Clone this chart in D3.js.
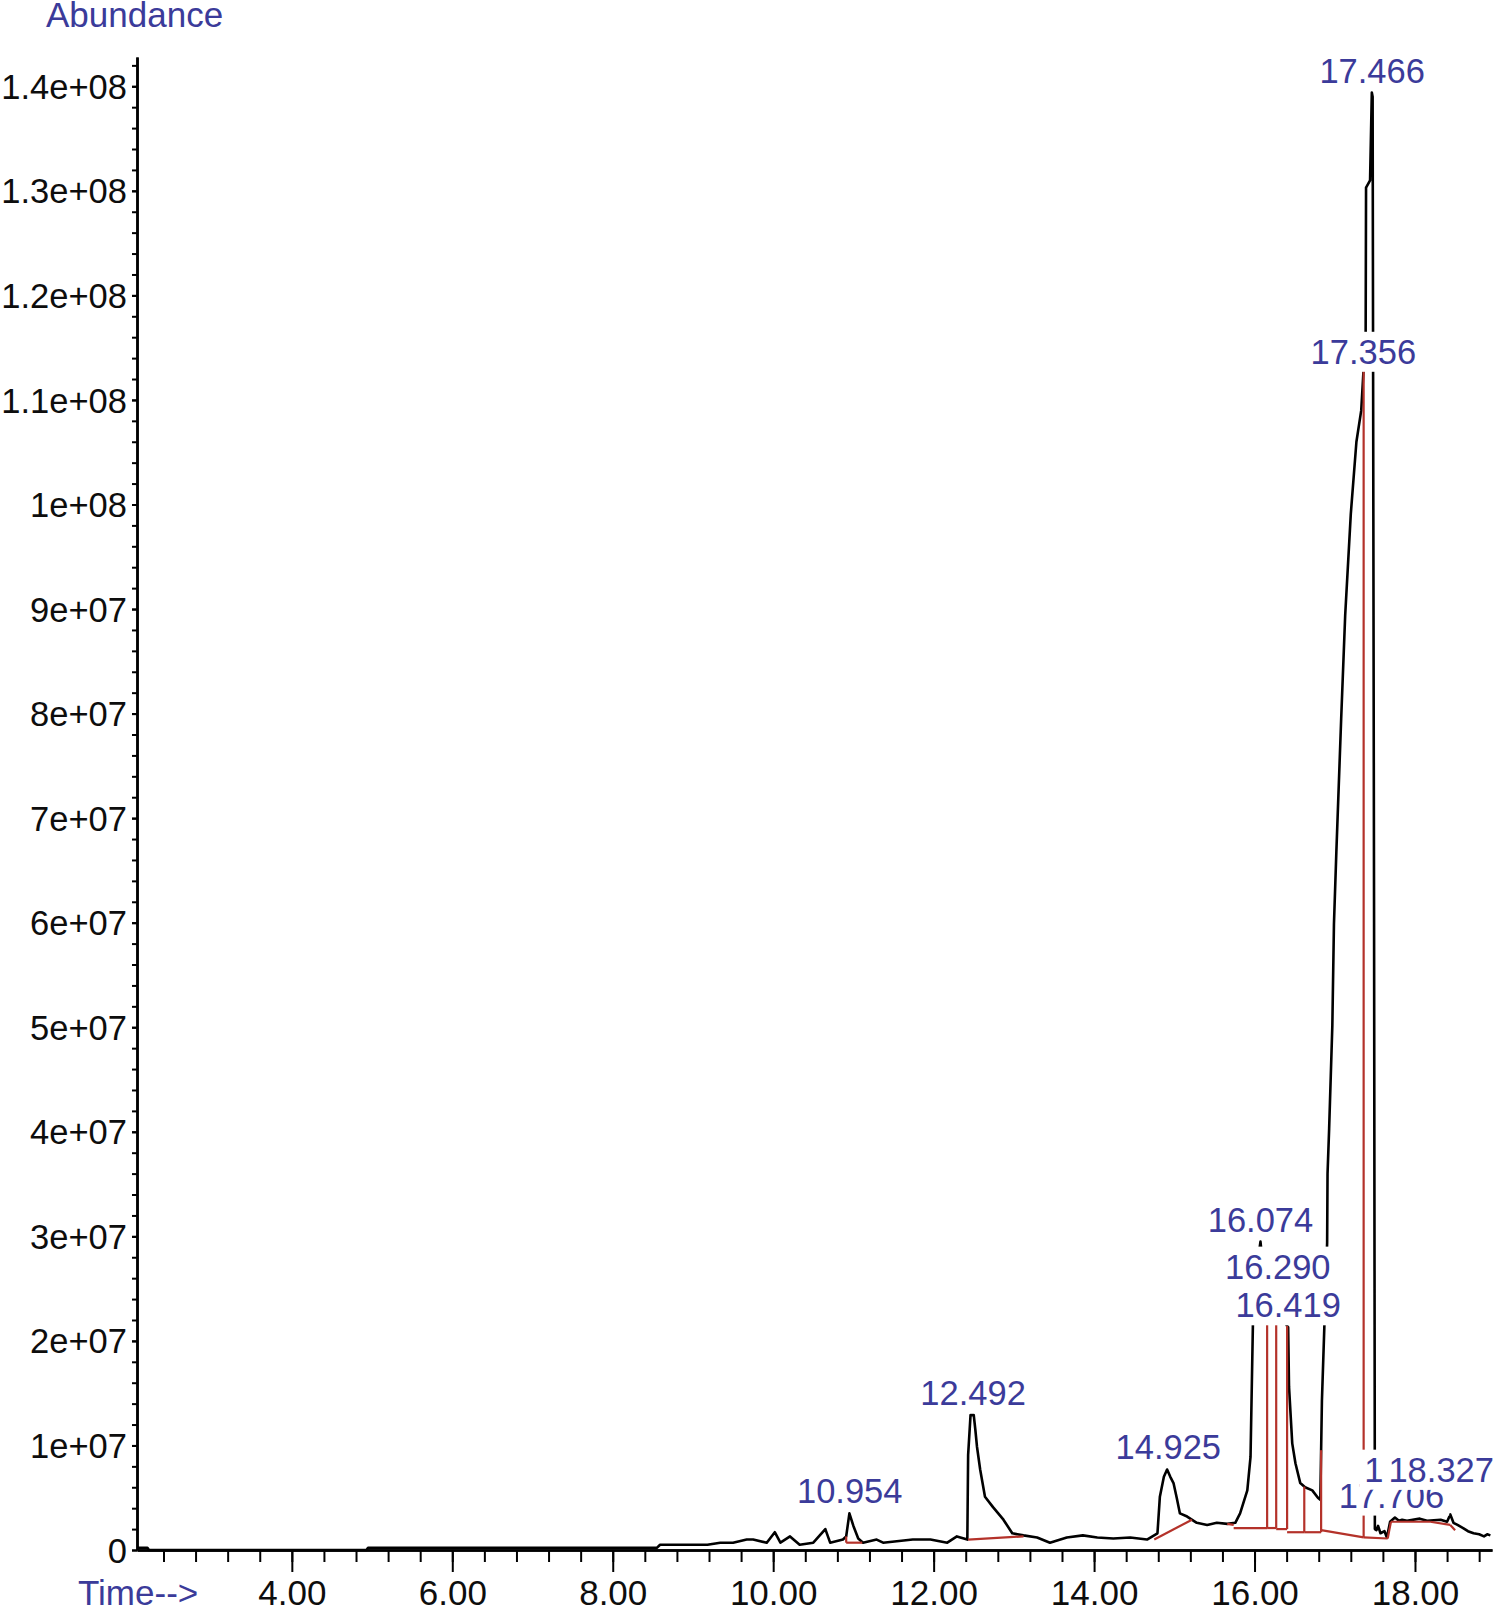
<!DOCTYPE html>
<html>
<head>
<meta charset="utf-8">
<script src="https://cdn.jsdelivr.net/npm/d3@7"></script>
<style>
  body { margin: 0; background: #fff; }
  svg text { font-family: "Liberation Sans", Arial, sans-serif; }
</style>
</head>
<body>
<svg id="chart"></svg>
<script>
// TIC trace: retention time (min) and abundance
var rt = [
  2.07, 2.20, 2.22, 4.93, 4.95, 8.55, 8.59, 9.18, 9.34, 9.50,
  9.67, 9.75, 9.92, 10.02, 10.09, 10.21, 10.33, 10.50, 10.65, 10.71,
  10.87, 10.91, 10.95, 11.00, 11.06, 11.12, 11.29, 11.37, 11.74, 11.96,
  12.17, 12.29, 12.42, 12.43, 12.46, 12.50, 12.52, 12.54, 12.58, 12.64,
  12.74, 12.87, 12.98, 13.12, 13.29, 13.45, 13.66, 13.86, 14.04, 14.24,
  14.45, 14.66, 14.79, 14.82, 14.87, 14.91, 14.95, 14.99, 15.03, 15.07,
  15.16, 15.28, 15.41, 15.53, 15.66, 15.76, 15.82, 15.91, 15.95, 15.98,
  16.02, 16.074, 16.12, 16.157, 16.20, 16.27, 16.29, 16.35, 16.40, 16.419,
  16.43, 16.47, 16.51, 16.57, 16.63, 16.72, 16.79, 16.82, 16.84, 16.87,
  16.905, 16.91, 16.93, 16.97, 16.99, 17.02, 17.08, 17.13, 17.20, 17.27,
  17.33, 17.356, 17.385, 17.39, 17.44, 17.462, 17.472, 17.49, 17.50, 17.52,
  17.54, 17.57, 17.62, 17.65, 17.69, 17.75, 17.80, 17.84, 17.90, 18.06,
  18.15, 18.32, 18.40, 18.44, 18.48, 18.53, 18.60, 18.66, 18.73, 18.80,
  18.86, 18.90, 18.94
];
var abundance = [
  0.2e6, 0.2e6, 0, 0, 0.2e6, 0.2e6, 0.5e6, 0.5e6, 0.7e6, 0.7e6,
  1.0e6, 1.0e6, 0.7e6, 1.7e6, 0.7e6, 1.3e6, 0.5e6, 0.7e6, 2.0e6, 0.7e6,
  1.0e6, 1.3e6, 3.5e6, 2.3e6, 1.1e6, 0.7e6, 1.0e6, 0.7e6, 1.0e6, 1.0e6,
  0.7e6, 1.3e6, 1.0e6, 9.1e6, 12.9e6, 12.9e6, 11.5e6, 9.9e6, 7.7e6, 5.1e6,
  4.1e6, 2.9e6, 1.6e6, 1.4e6, 1.2e6, 0.7e6, 1.2e6, 1.4e6, 1.2e6, 1.1e6,
  1.2e6, 1.0e6, 1.6e6, 5.1e6, 7.0e6, 7.7e6, 7.0e6, 6.4e6, 5.0e6, 3.5e6,
  3.2e6, 2.6e6, 2.4e6, 2.6e6, 2.5e6, 2.6e6, 3.5e6, 5.7e6, 8.9e6, 21.7e6,
  26.5e6, 29.5e6, 26.0e6, 23.5e6, 24.0e6, 24.5e6, 25.0e6, 23.0e6, 21.5e6, 21.3e6,
  15.6e6, 10.2e6, 8.3e6, 6.4e6, 6.0e6, 5.7e6, 5.0e6, 4.8e6, 14.3e6, 21.3e6,
  29.4e6, 36.0e6, 40.3e6, 50.2e6, 59.9e6, 66.8e6, 79.5e6, 89.4e6, 99.1e6, 106.0e6,
  109.0e6, 112.5e6, 116.3e6, 130.3e6, 131.0e6, 139.4e6, 139.0e6, 60.0e6, 2.0e6, 1.9e6,
  2.3e6, 1.6e6, 1.8e6, 1.2e6, 2.7e6, 3.1e6, 2.8e6, 2.9e6, 2.8e6, 3.0e6,
  2.8e6, 2.9e6, 2.7e6, 3.4e6, 2.6e6, 2.4e6, 2.1e6, 1.8e6, 1.6e6, 1.5e6,
  1.3e6, 1.5e6, 1.4e6
];

// labelled peaks
var peakRT = [10.954, 12.492, 14.925, 16.074, 16.290, 16.419, 17.356, 17.466, 17.706, 18.026, 18.327];
var peakTop = [3.5e6, 12.9e6, 7.7e6, 29.5e6, 25.0e6, 21.3e6, 112.5e6, 139.4e6, 3.1e6, 2.9e6, 2.9e6];

// integration baselines [t0, v0, t1, v1] and drop lines
var baseSeg = [
  [10.91, 0.7e6, 11.11, 0.7e6],
  [12.43, 1.0e6, 13.12, 1.3e6],
  [14.75, 1.0e6, 15.22, 2.9e6],
  [15.66, 2.5e6, 15.74, 2.4e6],
  [15.74, 2.1e6, 16.157, 2.1e6],
  [16.157, 2.1e6, 16.27, 2.1e6],
  [16.27, 2.0e6, 16.406, 2.0e6],
  [16.406, 1.7e6, 16.62, 1.7e6],
  [16.62, 1.7e6, 16.83, 1.7e6],
  [16.83, 1.9e6, 17.36, 1.2e6],
  [17.36, 1.2e6, 17.66, 1.1e6],
  [17.66, 1.1e6, 17.70, 2.7e6],
  [17.70, 2.7e6, 18.19, 2.7e6],
  [18.19, 2.7e6, 18.44, 2.4e6],
  [18.44, 2.4e6, 18.50, 1.9e6]
];
var dropRT = [10.91, 16.157, 16.27, 16.406, 16.62, 16.83, 17.36];

var xMajor = [4, 6, 8, 10, 12, 14, 16, 18];

function draw() {
  var width = 1500, height = 1608;
  var m = { left: 137, right: 1492, top: 57, bottom: 1550 };
  var blue = "#3b3b9a", red = "#b4322a", ink = "#0d0d0d";

  var svg = d3.select("#chart").attr("width", width).attr("height", height);

  var x = d3.scaleLinear().domain([2.07, 18.96]).range([m.left, m.right]);
  var y = d3.scaleLinear().domain([0, 1.428e8]).range([m.bottom, m.top]);

  // y axis
  var fmtY = function (d) {
    if (d === 0) return "0";
    return d.toExponential().replace(/e\+(\d)$/, "e+0$1");
  };
  svg.append("g")
    .attr("transform", "translate(" + m.left + ",0)")
    .call(d3.axisLeft(y).tickValues(d3.range(0, 1.43e8, 2e6)).tickSize(5).tickSizeOuter(0).tickFormat(""));
  var yAxis = svg.append("g")
    .attr("transform", "translate(" + m.left + ",0)")
    .call(d3.axisLeft(y).tickValues(d3.range(0, 1.41e8, 1e7)).tickSize(5).tickSizeOuter(0).tickPadding(5).tickFormat(fmtY));
  yAxis.selectAll("text").attr("font-size", 34.5).attr("fill", ink).attr("dy", "0.35em");

  // x axis
  svg.append("g")
    .attr("transform", "translate(0," + m.bottom + ")")
    .call(d3.axisBottom(x).tickValues(d3.range(2.4, 18.9, 0.4)).tickSize(12).tickSizeOuter(0).tickFormat(""));
  var xAxis = svg.append("g")
    .attr("transform", "translate(0," + m.bottom + ")")
    .call(d3.axisBottom(x).tickValues(xMajor).tickSize(22).tickSizeOuter(0).tickPadding(8)
      .tickFormat(function (d) { return d.toFixed(2); }));
  xAxis.selectAll("text").attr("font-size", 35).attr("fill", ink);

  svg.selectAll(".tick line").attr("stroke", "#000").attr("stroke-width", 2);
  svg.selectAll(".domain").attr("stroke", "#000").attr("stroke-width", 2.5);

  svg.append("text").attr("x", 46).attr("y", 27).attr("font-size", 35).attr("fill", blue).text("Abundance");
  svg.append("text").attr("x", 78).attr("y", 1605).attr("font-size", 35).attr("fill", blue).text("Time-->");

  // trace
  var pts = rt.map(function (t, i) { return [t, abundance[i]]; });
  var line = d3.line().x(function (d) { return x(d[0]); }).y(function (d) { return y(d[1]); });
  svg.append("path")
    .datum(pts)
    .attr("d", line)
    .attr("fill", "none")
    .attr("stroke", "#000")
    .attr("stroke-width", 2.6)
    .attr("stroke-linejoin", "round");

  function traceAt(t) {
    var i = d3.bisector(function (d) { return d[0]; }).left(pts, t);
    if (i <= 0) return pts[0][1];
    var a = pts[i - 1], b = pts[i];
    return a[1] + (b[1] - a[1]) * (t - a[0]) / (b[0] - a[0]);
  }
  function baseAt(t) {
    var s = baseSeg.find(function (s) { return t >= s[0] && t <= s[2]; });
    return s[1] + (s[3] - s[1]) * (t - s[0]) / (s[2] - s[0]);
  }

  // integration baselines and drop lines
  svg.append("g").selectAll("line").data(baseSeg).join("line")
    .attr("x1", function (d) { return x(d[0]); })
    .attr("y1", function (d) { return y(d[1]); })
    .attr("x2", function (d) { return x(d[2]); })
    .attr("y2", function (d) { return y(d[3]); })
    .attr("stroke", red).attr("stroke-width", 2.2);
  svg.append("g").selectAll("line").data(dropRT).join("line")
    .attr("x1", function (d) { return x(d); })
    .attr("x2", function (d) { return x(d); })
    .attr("y1", function (d) { return y(baseAt(d)); })
    .attr("y2", function (d) { return y(traceAt(d)); })
    .attr("stroke", red).attr("stroke-width", 2.2);

  // peak labels on white boxes
  var labelLift = { "18.026": -28, "18.327": -28 };
  peakRT.forEach(function (t, i) {
    var txt = t.toFixed(3);
    var g = svg.append("g");
    var rect = g.append("rect").attr("fill", "#fff");
    var label = g.append("text")
      .attr("x", x(t))
      .attr("y", y(peakTop[i]) - 10 + (labelLift[txt] || 0))
      .attr("text-anchor", "middle")
      .attr("font-size", 34.5)
      .attr("fill", blue)
      .text(txt);
    var bb = label.node().getBBox();
    rect.attr("x", bb.x - 5).attr("y", bb.y - 1).attr("width", bb.width + 10).attr("height", bb.height + 2);
  });
}

draw();
</script>
</body>
</html>
